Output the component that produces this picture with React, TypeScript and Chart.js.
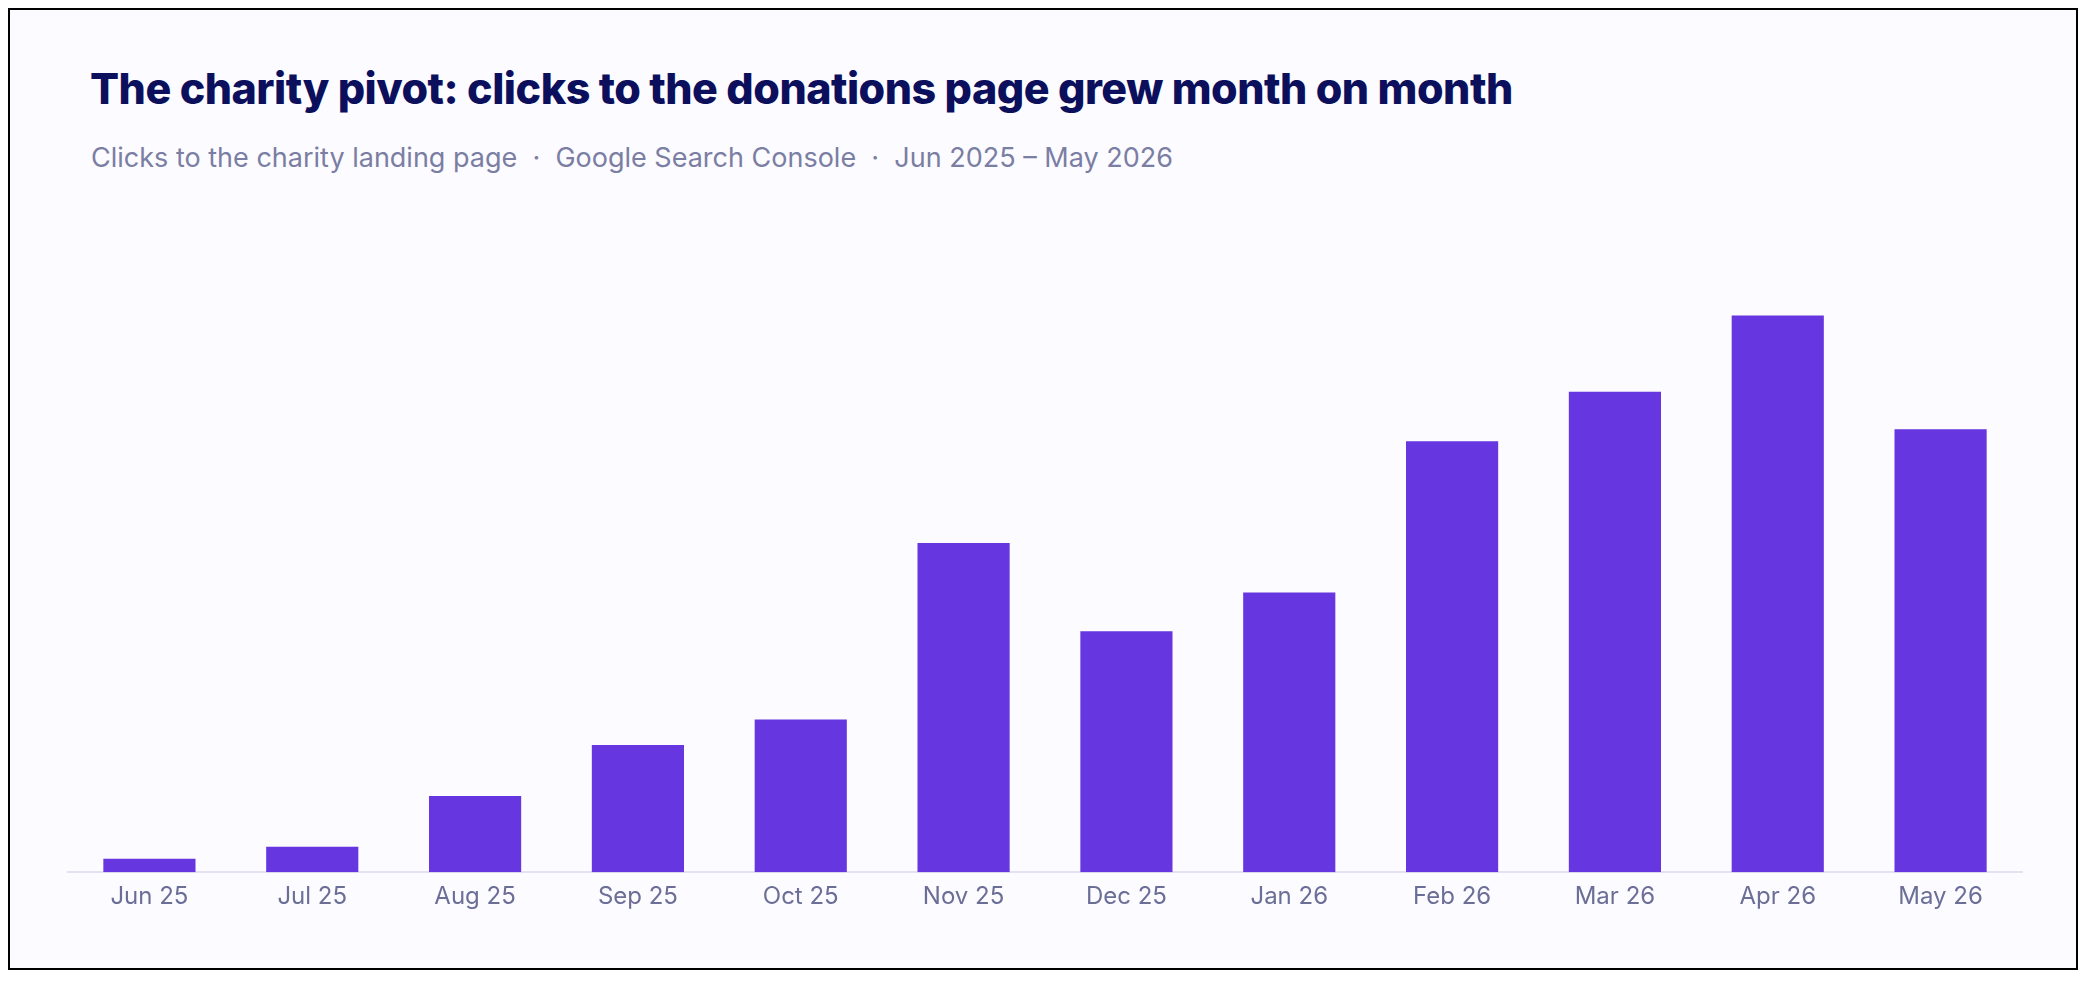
import React, { useEffect, useRef } from "react";
import { Chart, registerables } from "chart.js";
Chart.register(...registerables);

const categories = ["Jun 25","Jul 25","Aug 25","Sep 25","Oct 25","Nov 25","Dec 25","Jan 26","Feb 26","Mar 26","Apr 26","May 26"];
const clicks = [10, 19, 57, 95, 114, 246, 180, 209, 322, 359, 416, 331];

export default function App() {
  const ref = useRef<HTMLCanvasElement>(null);
  useEffect(() => {
    const chart = new Chart(ref.current!, {
      type: "bar",
      data: { labels: categories, datasets: [{ data: clicks, backgroundColor: "#6637e0", categoryPercentage: 0.566, barPercentage: 1 }] },
      options: {
        animation: false, responsive: true, maintainAspectRatio: false,
        layout: { padding: { left: 58, right: 54, top: 0, bottom: 0 } },
        plugins: { legend: { display: false }, tooltip: { enabled: false } },
        scales: {
          y: { display: false, min: 0, max: 500 },
          x: {
            grid: { display: false, drawTicks: false },
            border: { color: "#e4e2f0", width: 2 },
            ticks: { color: "#6b6e96", font: { family: "Inter", size: 24 }, padding: 10 },
          },
        },
      },
    });
    return () => chart.destroy();
  }, []);
  return (
    <div style={{ position: "relative", height: 962, border: "2px solid #000", background: "#fcfbff", boxSizing: "border-box", fontFamily: "Inter" }}>
      <div style={{ position: "absolute", left: 80, top: 52, fontSize: 43, fontWeight: 800, color: "#0b0f5c", letterSpacing: -0.5 }}>
        The charity pivot: clicks to the donations page grew month on month
      </div>
      <div style={{ position: "absolute", left: 81, top: 131, fontSize: 27, color: "#7b7ea3" }}>
        Clicks to the charity landing page&nbsp; · &nbsp;Google Search Console&nbsp; · &nbsp;Jun 2025 – May 2026
      </div>
      <div style={{ position: "absolute", left: 0, right: 0, top: 193, height: 718 }}>
        <canvas ref={ref} />
      </div>
    </div>
  );
}
